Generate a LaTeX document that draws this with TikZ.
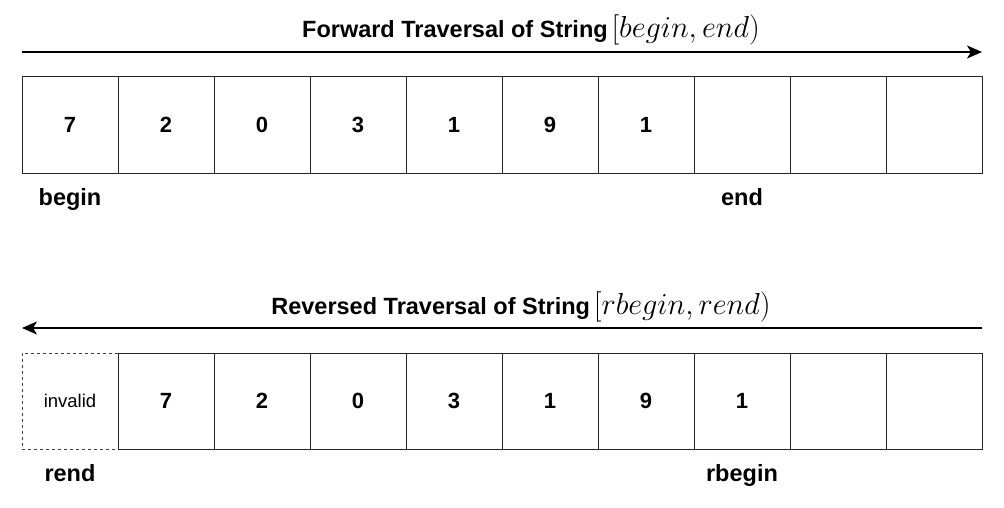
\documentclass[tikz,border=0pt]{standalone}
\usepackage{fontspec}
\setmainfont{Liberation Sans}
\usetikzlibrary{arrows.meta}
\newcommand{\titlemath}[1]{\scalebox{1.22}{$#1$}}
\begin{document}
\begin{tikzpicture}[x=1pt,y=-1pt,
  cell/.style={draw=black!85,line width=1pt,minimum width=96pt,minimum height=96pt,inner sep=0pt,font=\fontsize{22}{24}\selectfont\bfseries},
  invcell/.style={cell,dashed,draw=black!75,font=\fontsize{18.5}{21}\selectfont},
  lbl/.style={font=\fontsize{23.5}{26}\selectfont\bfseries,inner sep=0pt,anchor=base},
  ttl/.style={font=\fontsize{23.5}{26}\selectfont\bfseries,inner sep=0pt,anchor=base},
  arr/.style={line width=2pt,-{Stealth[length=15pt,width=13pt,inset=4pt]}}]
\useasboundingbox (0,0) rectangle (1004,508);
% top row
\foreach \i/\t in {0/7,1/2,2/0,3/3,4/1,5/9,6/1,7/{},8/{},9/{}}{
  \node[cell] (t\i) at ({70+96*\i},125) {\t};
}
\coordinate (ta) at (22,52);
\coordinate (tb) at (982,52);
\draw[arr] (ta) -- (tb);
\node[ttl] (tt) at (531,38) {Forward Traversal of String\,\titlemath{[begin, end)}};
\node[lbl] (lb) at (70,205) {begin};
\node[lbl] (le) at (742,205) {end};
% bottom row
\node[invcell] (b0) at (70,401) {invalid};
\foreach \i/\t in {1/7,2/2,3/0,4/3,5/1,6/9,7/1,8/{},9/{}}{
  \node[cell] (b\i) at ({70+96*\i},401) {\t};
}
\coordinate (ba) at (982,328);
\coordinate (bb) at (22,328);
\draw[arr] (ba) -- (bb);
\node[ttl] (bt) at (521,314) {Reversed Traversal of String\,\titlemath{[rbegin, rend)}};
\node[lbl] (lr) at (70,481) {rend};
\node[lbl] (lrb) at (742,481) {rbegin};
\end{tikzpicture}
\end{document}
